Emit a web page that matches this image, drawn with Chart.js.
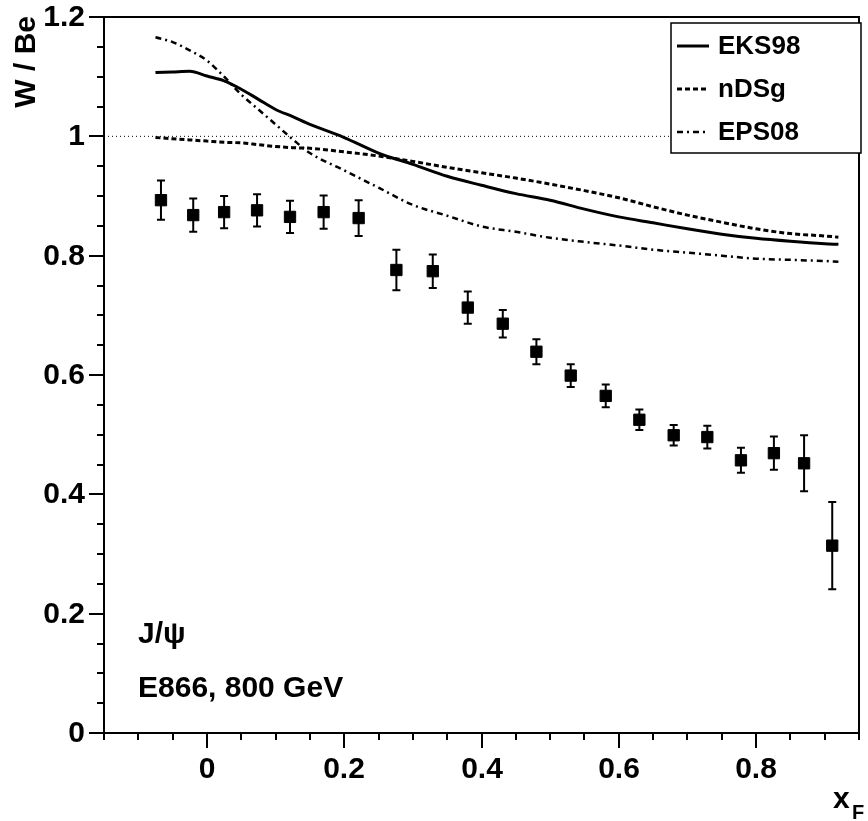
<!DOCTYPE html>
<html>
<head>
<meta charset="utf-8">
<script src="https://cdn.jsdelivr.net/npm/chart.js@4.4.1/dist/chart.umd.min.js"></script>
<style>
  body { margin: 0; background: #fff; }
  canvas { display: block; }
</style>
</head>
<body>
<canvas id="myChart" width="868" height="821"></canvas>
<script>
// ---- data ----
const xF       = [-0.067, -0.02, 0.025, 0.073, 0.121, 0.170, 0.221, 0.276, 0.329, 0.380, 0.431, 0.480, 0.530, 0.581, 0.630, 0.680, 0.729, 0.778, 0.826, 0.870, 0.911];
const ratioWBe = [0.893, 0.868, 0.873, 0.876, 0.865, 0.873, 0.863, 0.776, 0.774, 0.713, 0.686, 0.639, 0.599, 0.565, 0.525, 0.499, 0.496, 0.457, 0.469, 0.452, 0.314];
const ratioErr = [0.033, 0.028, 0.027, 0.027, 0.027, 0.028, 0.030, 0.034, 0.028, 0.027, 0.023, 0.021, 0.019, 0.019, 0.017, 0.017, 0.019, 0.021, 0.028, 0.047, 0.073];

const curveX = [-0.075, -0.05, -0.025, 0, 0.025, 0.05, 0.075, 0.1, 0.125, 0.15, 0.2, 0.25, 0.3, 0.35, 0.4, 0.45, 0.5, 0.55, 0.6, 0.65, 0.7, 0.75, 0.8, 0.85, 0.9, 0.92];
const eks98  = [1.107, 1.108, 1.109, 1.101, 1.093, 1.079, 1.062, 1.045, 1.033, 1.020, 0.998, 0.972, 0.953, 0.933, 0.918, 0.904, 0.893, 0.878, 0.865, 0.855, 0.845, 0.836, 0.829, 0.824, 0.820, 0.819];
const ndsg   = [0.998, 0.996, 0.994, 0.992, 0.990, 0.989, 0.986, 0.983, 0.981, 0.980, 0.974, 0.967, 0.958, 0.948, 0.939, 0.930, 0.920, 0.909, 0.897, 0.882, 0.868, 0.856, 0.845, 0.837, 0.833, 0.831];
const eps08  = [1.166, 1.158, 1.144, 1.127, 1.100, 1.070, 1.045, 1.020, 0.995, 0.972, 0.943, 0.914, 0.885, 0.867, 0.849, 0.840, 0.830, 0.823, 0.817, 0.810, 0.805, 0.800, 0.795, 0.793, 0.791, 0.790];

const xRange = [-0.15, 0.95];
const yRange = [0, 1.2];
const labelFont = 'Liberation Sans, Arial, sans-serif';

const toXY = (xs, ys) => xs.map((x, i) => ({ x: x, y: ys[i] }));
const isMajor = v => Math.abs(v / 0.2 - Math.round(v / 0.2)) < 1e-6;
const fmt = v => String(parseFloat(v.toFixed(1)));

/* ---------- plugins: frame, ticks + labels, error bars, legend, texts ---------- */
const frameAndTicks = {
    id: 'frameAndTicks',
    afterDraw(chart) {
        const { ctx, chartArea: a, scales } = chart;
        ctx.save();
        ctx.strokeStyle = '#000';
        ctx.fillStyle = '#000';
        ctx.lineWidth = 2;
        ctx.strokeRect(a.left, a.top, a.right - a.left, a.bottom - a.top);

        ctx.font = 'bold 30px ' + labelFont;
        ctx.beginPath();
        // y ticks (outside, left), labels right-aligned
        ctx.textAlign = 'right';
        ctx.textBaseline = 'middle';
        scales.y.ticks.forEach(t => {
            const py = Math.round(scales.y.getPixelForValue(t.value));
            const major = isMajor(t.value);
            ctx.moveTo(a.left - (major ? 15 : 7), py);
            ctx.lineTo(a.left, py);
            if (major) ctx.fillText(fmt(t.value), a.left - 19, py + 1);
        });
        // x ticks (below), labels centred
        ctx.textAlign = 'center';
        ctx.textBaseline = 'alphabetic';
        scales.x.ticks.forEach(t => {
            const px = Math.round(scales.x.getPixelForValue(t.value));
            const major = isMajor(t.value);
            ctx.moveTo(px, a.bottom);
            ctx.lineTo(px, a.bottom + (major ? 15 : 7));
            if (major) ctx.fillText(fmt(t.value), px, a.bottom + 45);
        });
        ctx.stroke();

        // axis titles
        ctx.save();
        ctx.translate(27, 16);
        ctx.rotate(-Math.PI / 2);
        ctx.textAlign = 'right';
        ctx.textBaseline = 'middle';
        ctx.fillText('W / Be', 0, 0);
        ctx.restore();

        ctx.textAlign = 'left';
        ctx.textBaseline = 'alphabetic';
        ctx.fillText('x', 833, 808);
        ctx.font = 'bold 20px ' + labelFont;
        ctx.fillText('F', 852, 819);

        // labels in the plot
        ctx.font = 'bold 30px ' + labelFont;
        ctx.fillText('J/\u03c8', 138, 643);
        ctx.fillText('E866, 800 GeV', 138, 697);
        ctx.restore();
    }
};

const errorBars = {
    id: 'errorBars',
    beforeDatasetsDraw(chart) {
        const { ctx, scales } = chart;
        ctx.save();
        ctx.strokeStyle = '#000';
        ctx.lineWidth = 2;
        ctx.beginPath();
        xF.forEach((x, i) => {
            const px = scales.x.getPixelForValue(x);
            const hi = scales.y.getPixelForValue(ratioWBe[i] + ratioErr[i]);
            const lo = scales.y.getPixelForValue(ratioWBe[i] - ratioErr[i]);
            ctx.moveTo(px, hi); ctx.lineTo(px, lo);
            ctx.moveTo(px - 4, hi); ctx.lineTo(px + 4, hi);
            ctx.moveTo(px - 4, lo); ctx.lineTo(px + 4, lo);
        });
        ctx.stroke();
        ctx.restore();
    }
};

const legendBox = {
    id: 'legendBox',
    afterDraw(chart) {
        const ctx = chart.ctx;
        const entries = [
            { label: 'EKS98', dash: [], width: 3 },
            { label: 'nDSg', dash: [5, 3], width: 3 },
            { label: 'EPS08', dash: [6, 4, 2, 4], width: 2.5 }
        ];
        ctx.save();
        ctx.fillStyle = '#fff';
        ctx.fillRect(671, 23, 190, 130);
        ctx.strokeStyle = '#000';
        ctx.lineWidth = 1.5;
        ctx.strokeRect(671, 23, 190, 130);
        ctx.fillStyle = '#000';
        ctx.font = 'bold 26px ' + labelFont;
        ctx.textBaseline = 'middle';
        ctx.textAlign = 'left';
        entries.forEach((e, i) => {
            const y = 46 + i * 43;
            ctx.setLineDash(e.dash);
            ctx.lineWidth = e.width;
            ctx.beginPath();
            ctx.moveTo(677, y);
            ctx.lineTo(709, y);
            ctx.stroke();
            ctx.setLineDash([]);
            ctx.fillText(e.label, 718, y + 1);
        });
        ctx.restore();
    }
};

document.addEventListener("DOMContentLoaded", () => {
    const ctx = document.getElementById('myChart').getContext('2d');

    const data = {
        datasets: [
            {
                label: 'E866 J/psi',
                type: 'scatter',
                data: toXY(xF, ratioWBe),
                pointStyle: 'rect',
                pointRadius: 8,
                backgroundColor: '#000',
                borderColor: '#000',
                borderWidth: 1,
                order: 0
            },
            {
                label: 'EKS98',
                data: toXY(curveX, eks98),
                borderColor: '#000',
                borderWidth: 3,
                pointRadius: 0,
                cubicInterpolationMode: 'monotone',
                order: 1
            },
            {
                label: 'nDSg',
                data: toXY(curveX, ndsg),
                borderColor: '#000',
                borderWidth: 3,
                borderDash: [5, 3],
                pointRadius: 0,
                cubicInterpolationMode: 'monotone',
                order: 2
            },
            {
                label: 'EPS08',
                data: toXY(curveX, eps08),
                borderColor: '#000',
                borderWidth: 2.5,
                borderDash: [6, 4, 2, 4],
                pointRadius: 0,
                cubicInterpolationMode: 'monotone',
                order: 3
            },
            {
                label: 'unity',
                data: toXY(xRange, [1, 1]),
                borderColor: '#000',
                borderWidth: 1,
                borderDash: [1, 3],
                pointRadius: 0,
                order: 4
            }
        ]
    };

    const config = {
        type: 'line',
        data: data,
        options: {
            responsive: false,
            animation: false,
            layout: { padding: { top: 17, right: 2, left: 0, bottom: 0 } },
            plugins: {
                legend: { display: false },
                tooltip: { enabled: false }
            },
            scales: {
                x: {
                    type: 'linear',
                    min: xRange[0],
                    max: xRange[1],
                    grid: { display: false, drawTicks: false },
                    border: { display: false },
                    ticks: { display: false, stepSize: 0.05, autoSkip: false },
                    afterFit: s => { s.height = 88; }
                },
                y: {
                    type: 'linear',
                    min: yRange[0],
                    max: yRange[1],
                    grid: { display: false, drawTicks: false },
                    border: { display: false },
                    ticks: { display: false, stepSize: 0.05, autoSkip: false },
                    afterFit: s => { s.width = 104; }
                }
            }
        },
        plugins: [errorBars, frameAndTicks, legendBox]
    };

    const myChart = new Chart(ctx, config);
});
</script>
</body>
</html>
